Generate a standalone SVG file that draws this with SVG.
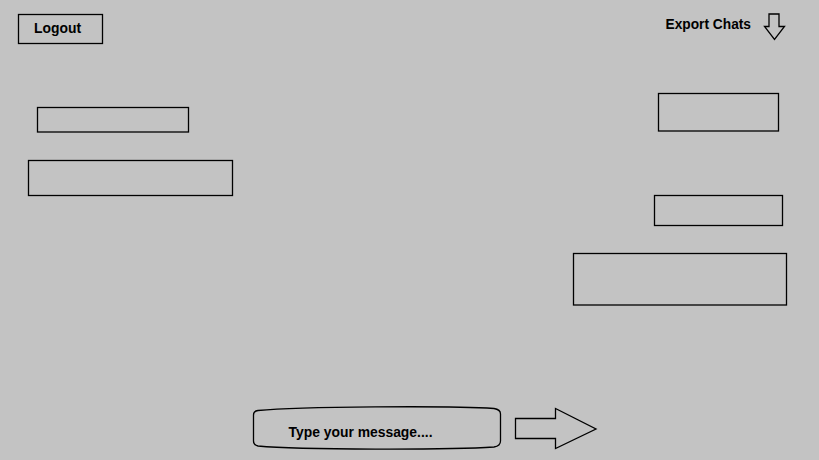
<svg xmlns="http://www.w3.org/2000/svg" width="819" height="460" viewBox="0 0 819 460">
<style>
.box{fill:none;stroke:#000;stroke-width:1.3}
.t{font-family:"Liberation Sans","Noto Sans",Arial,sans-serif;font-weight:bold;font-size:14px;fill:#000}
</style>
<rect width="819" height="460" fill="#c3c3c3"/>
<g id="logout">
<rect class="box" x="18.5" y="14.5" width="84" height="29"/>
<text class="t" x="34" y="33" textLength="47" lengthAdjust="spacingAndGlyphs">Logout</text>
</g>
<g id="export">
<text class="t" x="665.5" y="29" textLength="85.5" lengthAdjust="spacingAndGlyphs">Export Chats</text>
<path class="box" d="M769 14 L779 14 L779 26.5 L784.5 26.5 L774.5 39.5 L764.5 26.5 L769 26.5 Z"/>
</g>
<g id="msg-left-1"><rect class="box" x="37.5" y="107.5" width="151" height="24.5"/></g>
<g id="msg-left-2"><rect class="box" x="28.5" y="160.5" width="204" height="35"/></g>
<g id="msg-right-1"><rect class="box" x="658.5" y="93.5" width="120" height="37.5"/></g>
<g id="msg-right-2"><rect class="box" x="654.5" y="195.5" width="128" height="30"/></g>
<g id="msg-right-3"><rect class="box" x="573.5" y="253.5" width="213" height="51.5"/></g>
<g id="input">
<path class="box" d="M258 410.5 C300 406.5 450 405.5 494 408.5 Q500.5 409.5 500.5 414 L500.5 441 Q500.5 446 494 447 C450 450 300 450 258 446 Q253.5 445 253.5 441 L253.5 415 Q253.5 411 258 410.5 Z"/>
<text class="t" x="288.5" y="437" textLength="144" lengthAdjust="spacingAndGlyphs">Type your message....</text>
</g>
<g id="send">
<path class="box" d="M515.5 418.5 L555.5 418.5 L555.5 408.5 L596 429 L555.5 448.5 L555.5 438.5 L515.5 438.5 Z"/>
</g>
<g id="connectors"></g>
</svg>
